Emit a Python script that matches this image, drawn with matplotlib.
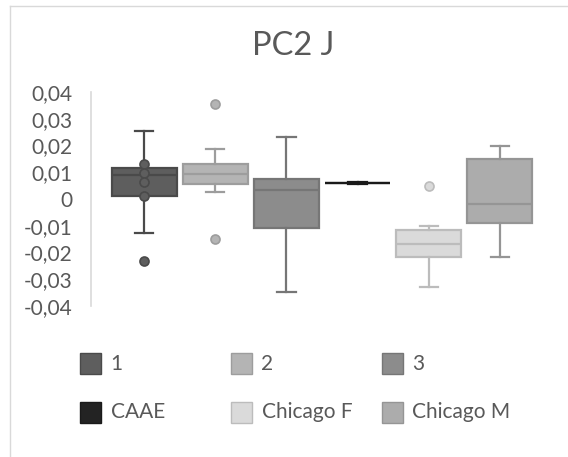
import matplotlib.pyplot as plt
from matplotlib.patches import Rectangle
from matplotlib.lines import Line2D

plt.rcParams['font.family'] = ['Lato', 'DejaVu Sans']

# series summary values (PC2 J)
groups = ['1', '2', '3', 'CAAE', 'Chicago F', 'Chicago M']
whis_hi = [0.0256, 0.0187, 0.0230, 0.0063, -0.0100, 0.0199]
q3 = [0.0116, 0.0131, 0.0076, 0.0061, -0.0116, 0.0150]
medians = [0.0088, 0.0094, 0.0035, 0.0060, -0.0167, -0.0017]
q1 = [0.0010, 0.0057, -0.0110, 0.0059, -0.0216, -0.0088]
whis_lo = [-0.0126, 0.0028, -0.0346, 0.0057, -0.0329, -0.0215]
outliers = [[-0.0233], [0.0355, -0.0151], [], [], [0.0048], []]
inner_points_1 = [0.0131, 0.0097, 0.0062, 0.0010]

fills = ['#5e5e5e', '#b4b4b4', '#8c8c8c', '#232323', '#dadada', '#acacac']
edges = ['#4a4a4a', '#9d9d9d', '#767676', '#1a1a1a', '#bcbcbc', '#959595']
text_color = '#595959'

fig = plt.figure(figsize=(5.68, 4.57), dpi=100)
ax = fig.add_axes([91 / 568, 1 - 306 / 457, 462 / 568, 214 / 457])

for i, name in enumerate(groups):
    stats = [{'med': medians[i], 'q1': q1[i], 'q3': q3[i],
              'whislo': whis_lo[i], 'whishi': whis_hi[i],
              'fliers': outliers[i], 'label': name}]
    c, e = fills[i], edges[i]
    ax.bxp(stats, positions=[i], widths=0.913, capwidths=0.26,
           patch_artist=True, manage_ticks=False,
           boxprops=dict(facecolor=c, edgecolor=e, linewidth=1.6),
           medianprops=dict(color=e, linewidth=1.6),
           whiskerprops=dict(color=e, linewidth=1.6),
           capprops=dict(color=e, linewidth=1.6),
           flierprops=dict(marker='o', markersize=6.5, markerfacecolor=c,
                           markeredgecolor=e, markeredgewidth=1.2))

# inner points of the first series
ax.plot([0] * len(inner_points_1), inner_points_1, 'o', ms=6.5,
        mfc=fills[0], mec=edges[0], mew=1.2, zorder=5)

ax.set_ylim(-0.04, 0.04)
ax.set_xlim(-0.745, 5.745)
ax.set_yticks([0.04, 0.03, 0.02, 0.01, 0, -0.01, -0.02, -0.03, -0.04])
ax.set_yticklabels(['0,04', '0,03', '0,02', '0,01', '0', '-0,01', '-0,02',
                    '-0,03', '-0,04'])
ax.set_xticks([])
ax.tick_params(axis='y', length=0, pad=13, labelsize=15, labelcolor=text_color)
for side in ['top', 'right', 'bottom']:
    ax.spines[side].set_visible(False)
ax.spines['left'].set_color('#d9d9d9')
ax.spines['left'].set_linewidth(1.2)

fig.text(293 / 568, 1 - 46 / 457, 'PC2 J', ha='center', va='center',
         fontsize=23.5, color=text_color)

# legend, three columns by two rows
col_x = [79.5, 230.5, 381.5]
row_y = [363.5, 412.5]
for i, name in enumerate(groups):
    x = col_x[i % 3]
    y = row_y[i // 3]
    fig.add_artist(Rectangle((x / 568, 1 - (y + 10.5) / 457), 21 / 568, 21 / 457,
                             transform=fig.transFigure, facecolor=fills[i],
                             edgecolor=edges[i], linewidth=1.0))
    fig.text((x + 31) / 568, 1 - y / 457, name, ha='left', va='center',
             fontsize=15, color=text_color)

# chart area border
fig.add_artist(Line2D([9.5 / 568, 9.5 / 568], [0, 1 - 6 / 457],
                      transform=fig.transFigure, color='#d9d9d9', lw=1.0))
fig.add_artist(Line2D([9.5 / 568, 1], [1 - 6 / 457, 1 - 6 / 457],
                      transform=fig.transFigure, color='#d9d9d9', lw=1.0))

fig.savefig('out.png', dpi=100)
